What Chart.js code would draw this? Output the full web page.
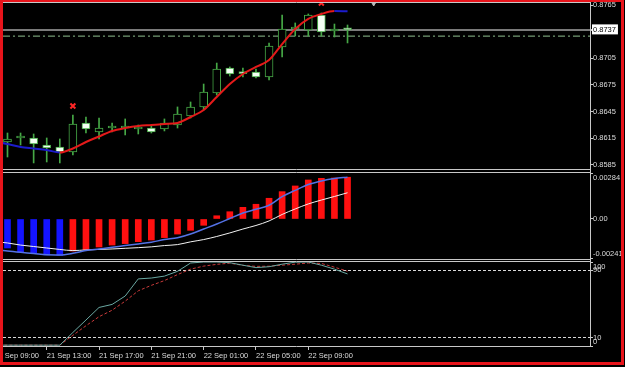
<!DOCTYPE html>
<html><head><meta charset="utf-8">
<script src="https://cdn.jsdelivr.net/npm/chart.js@4.4.0/dist/chart.umd.min.js"></script>
<style>
html,body{margin:0;padding:0;background:#e8e8e8;}
#wrap{position:relative;width:625px;height:367px;background:#000;overflow:hidden;}
canvas{position:absolute;left:0;}
#frame{position:absolute;left:0;top:0;width:624px;height:365px;box-sizing:border-box;border:3px solid #e8141b;border-top-width:2px;border-right-width:3px;pointer-events:none;}
</style></head>
<body><div id="wrap">
<canvas id="price" width="625" height="170" style="top:0"></canvas>
<canvas id="macd" width="625" height="90" style="top:170px"></canvas>
<canvas id="stoch" width="625" height="107" style="top:260px"></canvas>
<div id="frame"></div>
</div>
<script>
// ---------- data ----------
const times = ["21 Sep 09:00","21 Sep 10:00","21 Sep 11:00","21 Sep 12:00","21 Sep 13:00","21 Sep 14:00","21 Sep 15:00","21 Sep 16:00","21 Sep 17:00","21 Sep 18:00","21 Sep 19:00","21 Sep 20:00","21 Sep 21:00","21 Sep 22:00","21 Sep 23:00","22 Sep 00:00","22 Sep 01:00","22 Sep 02:00","22 Sep 03:00","22 Sep 04:00","22 Sep 05:00","22 Sep 06:00","22 Sep 07:00","22 Sep 08:00","22 Sep 09:00","22 Sep 10:00","22 Sep 11:00","22 Sep 12:00"];
const timeTicks = [0,4,8,12,16,20,24];

const open  = [null,0.86109,0.86154,0.86154,0.86075,0.86053,0.85996,0.86323,0.86221,0.86266,0.86266,0.86255,0.86266,0.86255,0.86300,0.86401,0.86503,0.86660,0.86941,0.86885,0.86896,0.86840,0.87178,0.87380,0.87369,0.87538,0.87358,0.87375];
const high  = [null,0.86210,0.86210,0.86199,0.86154,0.86143,0.86413,0.86390,0.86379,0.86323,0.86368,0.86300,0.86289,0.86368,0.86503,0.86559,0.86761,0.86997,0.86953,0.86941,0.86930,0.87223,0.87538,0.87448,0.87549,0.87560,0.87436,0.87425];
const low   = [null,0.85940,0.86075,0.85873,0.85884,0.85873,0.85963,0.86210,0.86143,0.86221,0.86188,0.86199,0.86210,0.86233,0.86266,0.86379,0.86469,0.86637,0.86851,0.86840,0.86829,0.86806,0.87065,0.87301,0.87301,0.87301,0.87290,0.87223];
const close = [null,0.86143,0.86165,0.86086,0.86041,0.85996,0.86311,0.86255,0.86266,0.86278,0.86272,0.86266,0.86221,0.86323,0.86424,0.86503,0.86671,0.86930,0.86874,0.86878,0.86840,0.87189,0.87380,0.87391,0.87538,0.87346,0.87369,0.87370];
const maLine = [0.86115,0.86086,0.86053,0.86036,0.86019,0.85991,0.86036,0.86109,0.86171,0.86233,0.86266,0.86289,0.86300,0.86311,0.86323,0.86390,0.86469,0.86615,0.86761,0.86874,0.86953,0.87031,0.87211,0.87380,0.87493,0.87549,0.87582,0.87580];
const markIdx = [6, 25];
const markPrice = [0.86514, 0.87672];
const shiftMarkIdx = 29;
const priceTicks = [0.8585,0.8615,0.8645,0.8675,0.8705,0.8737,0.8765];
const bidPrice = 0.8737;
const orderLevel = 0.8730;

const macdHist   = [-0.00165,-0.00179,-0.00204,-0.00210,-0.00222,-0.00225,-0.00198,-0.00190,-0.00173,-0.00161,-0.00152,-0.00140,-0.00130,-0.00115,-0.00093,-0.00070,-0.00039,0.00020,0.00045,0.00072,0.00091,0.00128,0.00169,0.00204,0.00241,0.00251,0.00253,0.00258];
const macdMain   = [-0.00188,-0.00198,-0.00206,-0.00213,-0.00221,-0.00222,-0.00212,-0.00195,-0.00185,-0.00175,-0.00164,-0.00154,-0.00143,-0.00127,-0.00116,-0.00093,-0.00062,-0.00031,0.00003,0.00037,0.00060,0.00085,0.00138,0.00177,0.00213,0.00235,0.00250,0.00258];
const macdSignal = [-0.00139,-0.00148,-0.00161,-0.00170,-0.00179,-0.00188,-0.00195,-0.00191,-0.00188,-0.00185,-0.00181,-0.00177,-0.00172,-0.00164,-0.00158,-0.00141,-0.00127,-0.00108,-0.00086,-0.00062,-0.00040,-0.00012,0.00028,0.00062,0.00093,0.00117,0.00139,0.00162];
const macdTicks = [-0.00241, 0, 0.00284];

const stochMain   = [1,1,1,1,1,1,16.1,30.9,45.9,49.5,59.5,79.9,80.9,83.2,88.9,98.8,100,100,99.2,96.2,93.3,94.4,97.4,99.8,100,96.2,91.5,85.8];
const stochSignal = [1,1,1,1,1,1,12.7,24.1,34.9,42.6,53.4,65.7,72.2,77.9,85,91.5,95.1,97.2,98.6,96,94.8,95,96.2,97.4,98.8,98.3,93.8,89.1];
const stochTicks = [0,10,90,100];
const stochLevels = [10,90];

// ---------- styling ----------
const FONT = '"Liberation Sans", Arial, sans-serif';
const FSIZE = 7.5;
const GREEN = '#46a846';
const AXIS = '#c8c8c8';
const TXT = '#dcdcdc';
const X_MIN = 0.657, X_MAX = 45.54;
const idx = times.map((_, k) => k);
const candleIdx = idx.filter(k => open[k] !== null);

Chart.defaults.font.family = FONT;
Chart.defaults.font.size = FSIZE;

const framePlugin = {
  id: 'frame',
  afterDraw(chart) {
    const {ctx, chartArea: a} = chart;
    ctx.save();
    ctx.strokeStyle = AXIS; ctx.lineWidth = 1;
    ctx.beginPath();
    ctx.moveTo(a.left - 0.5, a.top - 0.5); ctx.lineTo(a.right + 0.5, a.top - 0.5);
    ctx.moveTo(a.left - 0.5, a.bottom + 0.5); ctx.lineTo(a.right + 0.5, a.bottom + 0.5);
    ctx.moveTo(a.right + 0.5, 0); ctx.lineTo(a.right + 0.5, a.bottom + 1);
    ctx.stroke(); ctx.restore();
  }
};

function xScale(show) {
  return {
    type: 'linear', min: X_MIN, max: X_MAX, offset: false, display: show,
    grid: {offset: false, drawOnChartArea: false, drawTicks: true, tickLength: 4, tickColor: AXIS},
    border: {display: false},
    afterBuildTicks: s => { s.ticks = timeTicks.map(v => ({value: v})); },
    afterFit: s => { s.height = show ? 14 : 0; s.paddingLeft = 0; s.paddingRight = 0; },
    ticks: {autoSkip: false, maxRotation: 0, minRotation: 0, align: 'start', padding: 1, color: TXT,
      font: {family: FONT, size: FSIZE}, callback: v => times[v]}
  };
}
function yScale(min, max, tickVals, label, extra) {
  const base = {
    type: 'linear', position: 'right', min, max, beginAtZero: false,
    afterBuildTicks: s => { s.ticks = tickVals.map(v => ({value: v})); },
    afterFit: s => { s.width = 35; s.paddingTop = 0; s.paddingBottom = 0; },
    grid: {drawOnChartArea: false, drawTicks: true, tickLength: 3, tickColor: AXIS},
    border: {display: false},
    ticks: {autoSkip: false, padding: 0, color: TXT, font: {family: FONT, size: FSIZE}, callback: label}
  };
  if (extra) {
    if (extra.grid) Object.assign(base.grid, extra.grid);
    if (extra.ticks) Object.assign(base.ticks, extra.ticks);
    if (extra.border) Object.assign(base.border, extra.border);
  }
  return base;
}
const edgeLabel = (s, i, n) => i === 0 ? [s, ''] : (i === n - 1 ? ['', s] : s);

function makeChart(id, datasets, scales, padding) {
  return new Chart(document.getElementById(id), {
    type: 'bar',
    data: {datasets},
    options: {
      responsive: false, animation: false, devicePixelRatio: 1,
      layout: {padding, autoPadding: false},
      plugins: {legend: {display: false}, tooltip: {enabled: false}},
      scales
    },
    plugins: [framePlugin]
  });
}

// ---------- price panel ----------
const bodyFill = k => close[k] > open[k] ? '#000000' : (close[k] < open[k] ? '#f4fff4' : GREEN);
makeChart('price', [
  {type: 'line', data: [{x: X_MIN, y: orderLevel}, {x: X_MAX, y: orderLevel}], borderColor: '#8fbf8f',
   borderWidth: 1, borderDash: [7, 3, 2, 3], pointRadius: 0, order: 5},
  {type: 'bar', data: candleIdx.map(k => ({x: k, y: [low[k], high[k]]})), backgroundColor: GREEN,
   borderWidth: 0, barThickness: 1, maxBarThickness: 1, barPercentage: 1, categoryPercentage: 1, grouped: false, order: 4},
  {type: 'bar', data: candleIdx.map(k => ({x: k, y: [open[k], close[k]]})), backgroundColor: candleIdx.map(bodyFill),
   borderColor: GREEN, borderWidth: 1, borderSkipped: false, minBarLength: 2,
   barThickness: 8, maxBarThickness: 8, barPercentage: 1, categoryPercentage: 1, grouped: false, order: 3},
  {type: 'line', data: idx.map(k => ({x: k, y: maLine[k]})), borderWidth: 2, pointRadius: 0,
   cubicInterpolationMode: 'monotone',
   segment: {borderColor: c => c.p1.parsed.y >= c.p0.parsed.y ? '#e41a1a' : '#1c1ccc'}, order: 1},
  {type: 'line', showLine: false, data: markIdx.map((k, i) => ({x: k, y: markPrice[i]})), pointStyle: 'crossRot',
   pointRadius: 3.5, pointBorderWidth: 2, pointBorderColor: '#ff2626', clip: false, order: 0},
  {type: 'line', showLine: false, data: [{x: shiftMarkIdx, y: 0.876725}], pointStyle: 'triangle', rotation: 180,
   pointRadius: 3, pointBackgroundColor: '#b8b8b8', pointBorderColor: '#b8b8b8', clip: false, order: 0}
], {
  x: xScale(false),
  y: yScale(0.85805, 0.876725, priceTicks, v => v.toFixed(4), {
    grid: {drawOnChartArea: true,
      color: c => c.tick && c.tick.value === bidPrice ? '#7a7a7a' : 'rgba(0,0,0,0)',
      lineWidth: c => c.tick && c.tick.value === bidPrice ? 2 : 1},
    ticks: {color: c => c.tick && c.tick.value === bidPrice ? '#000000' : TXT,
      showLabelBackdrop: c => !!(c.tick && c.tick.value === bidPrice), backdropColor: '#ffffff',
      backdropPadding: {top: 1, bottom: 0, left: 1, right: 2}}
  })
}, {left: 3, top: 3, right: 0, bottom: 1});

// ---------- MACD panel ----------
const histColor = k => (k > 0 && macdHist[k] >= macdHist[k - 1]) ? '#ff1010' : '#1414ff';
makeChart('macd', [
  {type: 'bar', data: idx.map(k => ({x: k, y: macdHist[k]})), backgroundColor: idx.map(histColor), borderWidth: 0,
   barThickness: 6, maxBarThickness: 6, barPercentage: 1, categoryPercentage: 1, grouped: false, order: 3},
  {type: 'line', data: idx.map(k => ({x: k, y: macdSignal[k]})), borderColor: '#f2f2f2', borderWidth: 1,
   pointRadius: 0, cubicInterpolationMode: 'monotone', order: 2},
  {type: 'line', data: idx.map(k => ({x: k, y: macdMain[k]})), borderColor: '#5472e6', borderWidth: 1.5,
   pointRadius: 0, cubicInterpolationMode: 'monotone', order: 1}
], {
  x: xScale(false),
  y: yScale(-0.00247, 0.00284, macdTicks, (v, i, t) => edgeLabel(v === 0 ? '0.00' : v.toFixed(5), i, t.length))
}, {left: 3, top: 3, right: 0, bottom: 1});

// ---------- Stochastic panel ----------
makeChart('stoch', [
  {type: 'line', data: idx.map(k => ({x: k, y: stochSignal[k]})), borderColor: '#c83a3a', borderWidth: 1,
   borderDash: [3, 2], pointRadius: 0, order: 2},
  {type: 'line', data: idx.map(k => ({x: k, y: stochMain[k]})), borderColor: '#6aa8a2', borderWidth: 1,
   pointRadius: 0, order: 1}
], {
  x: xScale(true),
  y: yScale(0, 100, stochTicks, (v, i, t) => edgeLabel(String(v), i, t.length), {
    grid: {drawOnChartArea: true,
      color: c => c.tick && stochLevels.includes(c.tick.value) ? '#d8d8d8' : 'rgba(0,0,0,0)'},
    border: {dash: [3, 2]}
  })
}, {left: 3, top: 2, right: 0, bottom: 7});
</script>
</body></html>
